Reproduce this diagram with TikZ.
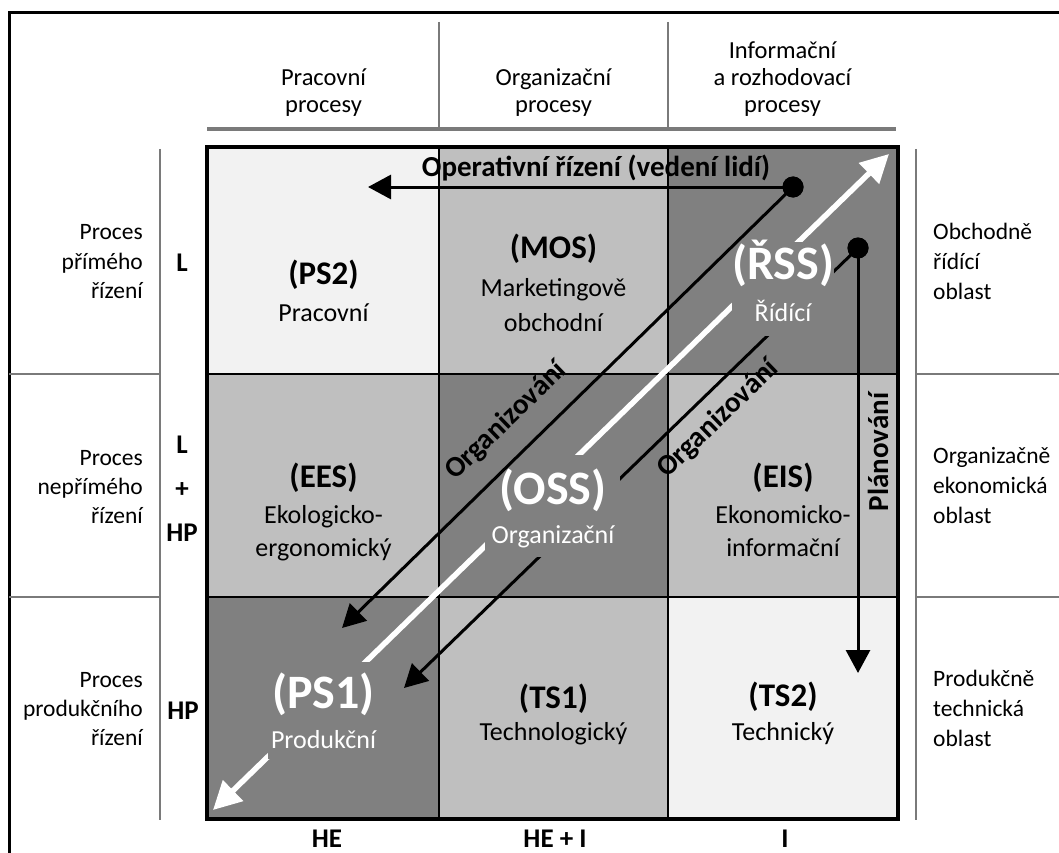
\documentclass[tikz,border=0pt]{standalone}
\usepackage{fontspec}
\setmainfont{Carlito}
\usetikzlibrary{arrows.meta}
\definecolor{cellLight}{HTML}{F2F2F2}
\definecolor{cellMid}{HTML}{BFBFBF}
\definecolor{cellDark}{HTML}{808080}
\definecolor{sepGray}{HTML}{7A7A7A}
\begin{document}
\begin{tikzpicture}[x=1pt,y=-1pt,
  cellbox/.style n args={3}{draw=black, line width=2pt, fill=#1,
    minimum width=#2, minimum height=#3, inner sep=0pt},
  sepline/.style={draw=sepGray, line width=2pt},
  headtxt/.style={font=\fontsize{24.5}{27}\selectfont, anchor=base, inner sep=0pt},
  sidetxt/.style={font=\fontsize{23.5}{27}\selectfont, inner sep=0pt},
  axistxt/.style={font=\fontsize{27}{30}\selectfont\bfseries, anchor=base, inner sep=0pt},
  title/.style={font=\fontsize{33}{35}\selectfont\bfseries, anchor=base, inner sep=0pt},
  bigtitle/.style={font=\fontsize{48}{50}\selectfont\bfseries, text=white, anchor=base, inner sep=0pt},
  subtxt/.style={font=\fontsize{26}{30}\selectfont, anchor=base, inner sep=0pt},
  mask/.style={fill=cellDark, inner sep=0pt},
  blk/.style={draw=black, line width=3pt},
  blkhead/.style={-{Triangle[length=23pt,width=24pt]}},
  whiteline/.style={draw=white, line width=5.5pt, {Triangle[length=28pt,width=28pt]}-{Triangle[length=28pt,width=28pt]}},
  dotc/.style={circle, fill=black, minimum size=21pt, inner sep=0pt},
  lbl/.style={font=\fontsize{29}{31}\selectfont\bfseries, inner sep=0pt}
]
\useasboundingbox (0,0) rectangle (1059,853);

% outer frame (runs past the right and lower edges)
\begin{scope}
  \clip (0,0) rectangle (1059,853);
  \draw[line width=3pt] (9,13) rectangle (1090,890);
\end{scope}

% header separators
\draw[sepline] (439,22) -- (439,128);
\draw[sepline] (668,22) -- (668,128);
\draw[sepline, line width=3.5pt] (207,129) -- (896,129);

% side separators
\draw[sepline] (160,149) -- (160,820);
\draw[sepline, line width=2.5pt] (9,374) -- (160,374);
\draw[sepline, line width=2.5pt] (9,597) -- (160,597);
\draw[sepline] (916,149) -- (916,820);
\draw[sepline, line width=2.5pt] (916,374) -- (1059,374);
\draw[sepline, line width=2.5pt] (916,597) -- (1059,597);

% header texts
\node[headtxt] (h1a) at (323.5,86) {Pracovní};
\node[headtxt] (h1b) at (323.5,113) {procesy};
\node[headtxt] (h2a) at (553.5,86) {Organizační};
\node[headtxt] (h2b) at (553.5,113) {procesy};
\node[headtxt] (h3a) at (782.5,59) {Informační};
\node[headtxt] (h3b) at (782.5,86) {a rozhodovací};
\node[headtxt] (h3c) at (782.5,113) {procesy};

% left side labels
\node[sidetxt, anchor=base east] (l1a) at (143,239) {Proces};
\node[sidetxt, anchor=base east] (l1b) at (143,269) {přímého};
\node[sidetxt, anchor=base east] (l1c) at (143,298) {řízení};
\node[sidetxt, anchor=base east] (l2a) at (143,465) {Proces};
\node[sidetxt, anchor=base east] (l2b) at (143,494) {nepřímého};
\node[sidetxt, anchor=base east] (l2c) at (143,523) {řízení};
\node[sidetxt, anchor=base east] (l3a) at (143,687) {Proces};
\node[sidetxt, anchor=base east] (l3b) at (143,716) {produkčního};
\node[sidetxt, anchor=base east] (l3c) at (143,745) {řízení};

\node[axistxt] (a1) at (182,271) {L};
\node[axistxt] (a2a) at (182,453) {L};
\node[axistxt] (a2b) at (182,497) {+};
\node[axistxt] (a2c) at (182,541) {HP};
\node[axistxt] (a3) at (183,719) {HP};

% right side labels
\node[sidetxt, anchor=base west] (r1a) at (933,239) {Obchodně};
\node[sidetxt, anchor=base west] (r1b) at (933,269) {řídící};
\node[sidetxt, anchor=base west] (r1c) at (933,299) {oblast};
\node[sidetxt, anchor=base west] (r2a) at (933,463) {Organizačně};
\node[sidetxt, anchor=base west] (r2b) at (933,493) {ekonomická};
\node[sidetxt, anchor=base west] (r2c) at (933,523) {oblast};
\node[sidetxt, anchor=base west] (r3a) at (933,686) {Produkčně};
\node[sidetxt, anchor=base west] (r3b) at (933,716) {technická};
\node[sidetxt, anchor=base west] (r3c) at (933,746) {oblast};

% bottom labels
\node[axistxt] (b1) at (327,847) {HE};
\node[axistxt] (b2) at (555,847) {HE + I};
\node[axistxt] (b3) at (785,847) {I};

% the nine cells
\node[cellbox={cellLight}{231pt}{226pt}] (ps2) at (323.5,261) {};
\node[cellbox={cellMid}{229pt}{226pt}]   (mos) at (553.5,261) {};
\node[cellbox={cellDark}{229pt}{226pt}]  (rss) at (782.5,261) {};
\node[cellbox={cellMid}{231pt}{223pt}]   (ees) at (323.5,485.5) {};
\node[cellbox={cellDark}{229pt}{223pt}]  (oss) at (553.5,485.5) {};
\node[cellbox={cellMid}{229pt}{223pt}]   (eis) at (782.5,485.5) {};
\node[cellbox={cellDark}{231pt}{221pt}]  (ps1) at (323.5,707.5) {};
\node[cellbox={cellMid}{229pt}{221pt}]   (ts1) at (553.5,707.5) {};
\node[cellbox={cellLight}{229pt}{221pt}] (ts2) at (782.5,707.5) {};
\draw[line width=4pt] (ps2.north west) rectangle (ts2.south east);

% connectors that pass behind the cell captions
\node[dotc] (d1) at (793,187) {};
\node[dotc] (d2) at (858,248) {};
\coordinate (wS) at (213,810);
\coordinate (wE) at (889,154);
\coordinate (o2End) at (404,688);
\draw[whiteline] (wS) -- (wE);
\draw[blk, blkhead] (d2.center) -- (o2End);

% caption backgrounds
\node[mask, minimum width=102pt, minimum height=94pt] (rssmask) at (783,289) {};
\node[mask, minimum width=135pt, minimum height=102pt] (ossmask) at (552.5,506) {};
\node[mask, minimum width=112pt, minimum height=97pt] (ps1mask) at (323.5,710.5) {};

% cell captions
\node[title] (t1) at (323.5,284) {(PS2)};
\node[subtxt] (s1) at (323.5,321) {Pracovní};
\node[title] (t2) at (553.5,258) {(MOS)};
\node[subtxt] (s2a) at (553.5,296) {Marketingově};
\node[subtxt] (s2b) at (553.5,331) {obchodní};
\node[bigtitle] (t3) at (783,279) {(ŘSS)};
\node[subtxt, text=white] (s3) at (783,321) {Řídící};
\node[title] (t4) at (323.5,487) {(EES)};
\node[subtxt] (s4a) at (323.5,523) {Ekologicko-};
\node[subtxt] (s4b) at (323.5,556) {ergonomický};
\node[bigtitle] (t5) at (553,504) {(OSS)};
\node[subtxt, text=white] (s5) at (553,543) {Organizační};
\node[title] (t6) at (783,487) {(EIS)};
\node[subtxt] (s6a) at (783,523) {Ekonomicko-};
\node[subtxt] (s6b) at (783,556) {informační};
\node[bigtitle] (t7) at (323.5,708) {(PS1)};
\node[subtxt, text=white] (s7) at (323.5,748) {Produkční};
\node[title] (t8) at (553.5,708) {(TS1)};
\node[subtxt] (s8) at (553.5,740) {Technologický};
\node[title] (t9) at (783,706) {(TS2)};
\node[subtxt] (s9) at (783,740) {Technický};

% connectors drawn on top
\coordinate (opEnd) at (368,187);
\coordinate (o1End) at (342,628);
\coordinate (plEnd) at (858,673);
\draw[blk, blkhead] (d1.center) -- (opEnd);
\draw[blk, blkhead] (d1.center) -- (o1End);
\draw[blk, blkhead] (d2.center) -- (plEnd);
\node[dotc] at (d1) {};
\node[dotc] at (d2) {};

% connector labels
\node[lbl, anchor=base] (oper) at (596,176) {Operativní řízení (vedení lidí)};
\node[lbl, rotate=44] (org1) at (506,421) {Organizování};
\node[lbl, rotate=44] (org2) at (718,419) {Organizování};
\node[lbl, rotate=90] (plan) at (878,452) {Plánování};
\end{tikzpicture}
\end{document}
